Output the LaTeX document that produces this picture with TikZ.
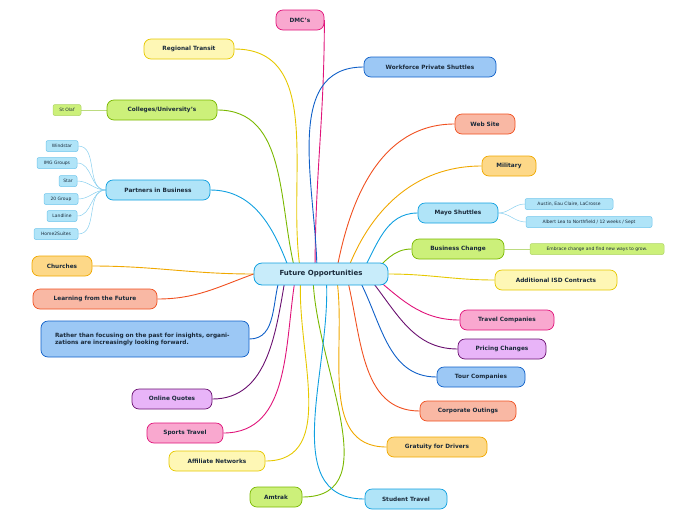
\documentclass[tikz,border=0pt]{standalone}
\usepackage{fontspec}
\setmainfont{DejaVu Sans}
\usetikzlibrary{backgrounds}
\definecolor{pkF}{HTML}{F9A8CF}\definecolor{pkB}{HTML}{E0147A}
\definecolor{yeF}{HTML}{FEF7B5}\definecolor{yeB}{HTML}{E6C800}
\definecolor{blF}{HTML}{9CC8F5}\definecolor{blB}{HTML}{1060C8}
\definecolor{grF}{HTML}{CCF07A}\definecolor{grB}{HTML}{7AB800}
\definecolor{saF}{HTML}{F9B8A4}\definecolor{saB}{HTML}{F05020}
\definecolor{lbF}{HTML}{B0E4F8}\definecolor{lbB}{HTML}{10A0E0}
\definecolor{orF}{HTML}{FDD888}\definecolor{orB}{HTML}{F0A800}
\definecolor{puF}{HTML}{E8B4F8}\definecolor{puB}{HTML}{6A1070}
\definecolor{txt}{HTML}{1A2A3A}
\tikzset{
 topic/.style args={#1/#2}{draw=#2B,fill=#2F,rounded corners=7pt,minimum width=#1pt,minimum height=20pt,font=\bfseries\fontsize{5.8}{7}\selectfont,text=txt,inner sep=2pt,line width=0.7pt},
 sub/.style args={#1/#2}{draw=#2B!60,fill=#2F,rounded corners=2pt,minimum width=#1pt,minimum height=11pt,font=\fontsize{4.5}{5}\selectfont,text=txt,inner sep=1pt,line width=0.5pt},
 ln/.style={draw=#1B,line width=0.9pt},
 sl/.style={draw=#1B!50,line width=0.5pt}
}
\begin{document}
\begin{tikzpicture}[x=1pt,y=-1pt]
\useasboundingbox (0,0) rectangle (696,520);
\node[draw=lbB,fill=lbF!70,rounded corners=8pt,minimum width=134pt,minimum height=22pt,font=\bfseries\fontsize{7}{8}\selectfont,text=txt,line width=0.8pt] (fut) at (321,274) {Future Opportunities};
\node[topic=48/pk] (dmc) at (300,20) {DMC's};
\node[topic=90/ye] (rt) at (189,49) {Regional Transit};
\node[topic=132/bl] (wps) at (430,67) {Workforce Private Shuttles};
\node[topic=110/gr] (col) at (162,110) {Colleges/University's};
\node[sub=28/gr] (olaf) at (67,110) {St Olaf};
\node[topic=60/sa] (web) at (485,124) {Web Site};
\node[topic=104/lb] (pib) at (158,190) {Partners in Business};
\node[sub=32/lb] (p1) at (62,146) {Windstar};
\node[sub=40/lb] (p2) at (57,163) {IMG Groups};
\node[sub=18/lb] (p3) at (68,181) {Star};
\node[sub=34/lb] (p4) at (61,199) {20 Group};
\node[sub=30/lb] (p5) at (62,216) {Landline};
\node[sub=44/lb] (p6) at (56,234) {Home2Suites};
\node[topic=54/or] (mil) at (509,166) {Military};
\node[topic=80/lb] (mayo) at (458,213) {Mayo Shuttles};
\node[sub=88/lb] (m1) at (569,204) {Austin, Eau Claire, LaCrosse};
\node[sub=126/lb] (m2) at (589,222) {Albert Lea to Northfield / 12 weeks / Sept};
\node[topic=92/gr] (bc) at (458,249) {Business Change};
\node[sub=134/gr] (b1) at (597,249) {Embrace change and find new ways to grow.};
\node[topic=60/or] (chu) at (62,266) {Churches};
\node[topic=122/ye] (isd) at (556,280) {Additional ISD Contracts};
\node[topic=124/sa] (lff) at (95,299) {Learning from the Future};
\node[topic=94/pk] (tc) at (507,320) {Travel Companies};
\node[topic=208/bl,minimum height=36pt,text width=180pt,align=left] (rat) at (145,339) {Rather than focusing on the past for insights, organizations are increasingly looking forward.};
\node[topic=88/pu] (pc) at (502,349) {Pricing Changes};
\node[topic=88/bl] (tour) at (481,377) {Tour Companies};
\node[topic=80/pu] (oq) at (172,399) {Online Quotes};
\node[topic=96/sa] (co) at (468,411) {Corporate Outings};
\node[topic=76/pk] (st) at (185,433) {Sports Travel};
\node[topic=100/or] (gd) at (437,447) {Gratuity for Drivers};
\node[topic=96/ye] (an) at (217,461) {Affiliate Networks};
\node[topic=52/gr] (am) at (276,497) {Amtrak};
\node[topic=82/lb] (stt) at (406,499) {Student Travel};
\begin{pgfonlayer}{background}
\draw[ln=pk] ([xshift=-6pt]fut.center) to[out=90,in=-90] (dmc.east);
\draw[ln=ye] ([xshift=-20pt]fut.center) to[out=100,in=0] (rt.east);
\draw[ln=bl] ([xshift=-4pt]fut.center) to[out=90,in=180] (wps.west);
\draw[ln=gr] ([xshift=-25pt]fut.center) to[out=105,in=0] (col.east);
\draw[ln=sa] ([xshift=15pt]fut.center) to[out=80,in=180] (web.west);
\draw[ln=lb] ([xshift=-30pt]fut.center) to[out=110,in=0] (pib.east);
\draw[ln=or] ([xshift=25pt]fut.center) to[out=70,in=180] (mil.west);
\draw[ln=lb] ([xshift=40pt]fut.center) to[out=60,in=180] (mayo.west);
\draw[ln=gr] ([xshift=50pt]fut.center) to[out=40,in=180] (bc.west);
\draw[ln=or] (fut.west) to[out=180,in=0] (chu.east);
\draw[ln=ye] (fut.east) to[out=0,in=180] (isd.west);
\draw[ln=sa] (fut.west) to[out=200,in=0] (lff.east);
\draw[ln=pk] ([xshift=50pt]fut.center) to[out=-40,in=180] (tc.west);
\draw[ln=bl] ([xshift=-40pt]fut.center) to[out=-110,in=0] (rat.east);
\draw[ln=pu] ([xshift=45pt]fut.center) to[out=-50,in=180] (pc.west);
\draw[ln=bl] ([xshift=35pt]fut.center) to[out=-60,in=180] (tour.west);
\draw[ln=pu] ([xshift=-35pt]fut.center) to[out=-100,in=0] (oq.east);
\draw[ln=sa] ([xshift=25pt]fut.center) to[out=-75,in=180] (co.west);
\draw[ln=pk] ([xshift=-25pt]fut.center) to[out=-100,in=0] (st.east);
\draw[ln=or] ([xshift=15pt]fut.center) to[out=-80,in=180] (gd.west);
\draw[ln=ye] ([xshift=-20pt]fut.center) to[out=-95,in=0] (an.east);
\draw[ln=gr] ([xshift=-8pt]fut.center) to[out=-90,in=0] (am.east);
\draw[ln=lb] ([xshift=5pt]fut.center) to[out=-85,in=180] (stt.west);
\draw[sl=gr] (col.west) -- (olaf.east);
\foreach \p in {p1,p2,p3,p4,p5,p6} \draw[sl=lb] (pib.west) to[out=180,in=0] (\p.east);
\draw[sl=lb] (mayo.east) to[out=0,in=180] (m1.west);
\draw[sl=lb] (mayo.east) to[out=0,in=180] (m2.west);
\draw[sl=gr] (bc.east) -- (b1.west);
\end{pgfonlayer}
\end{tikzpicture}
\end{document}
